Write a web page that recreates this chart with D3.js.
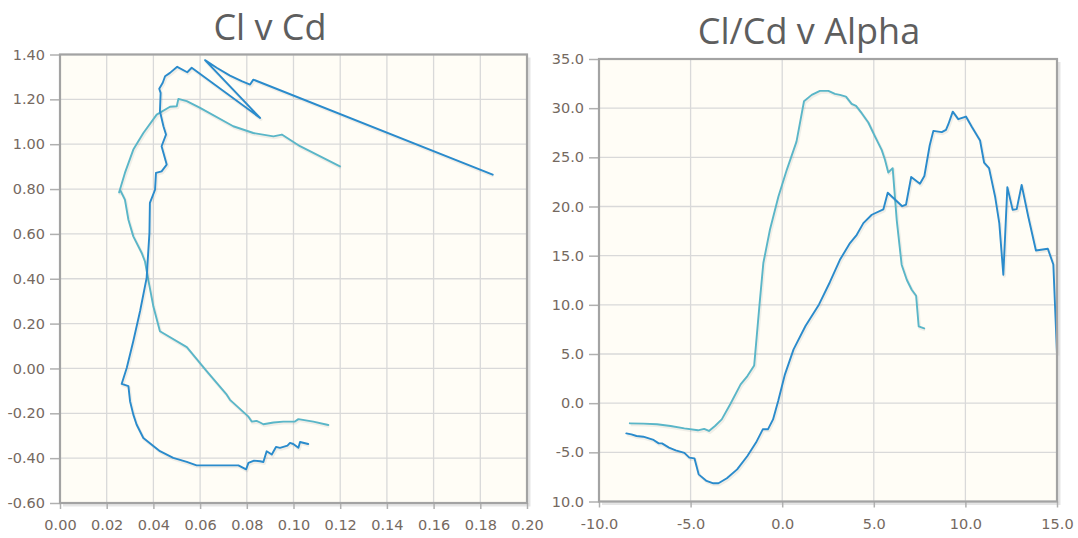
<!DOCTYPE html>
<html>
<head>
<meta charset="utf-8">
<script src="https://cdn.jsdelivr.net/npm/d3@7/dist/d3.min.js"></script>
<style>
  html,body{margin:0;padding:0;background:#ffffff;}
  svg{display:block;}
</style>
</head>
<body>
<svg id="chart" width="1078" height="538"></svg>
<script>
// ---------- DATA ----------
// Left chart: Cl v Cd (series A = dark blue, series B = teal)
const cdA = [0.1063,0.1028,0.1021,0.0999,0.0985,0.0974,0.0942,0.0925,0.0907,0.0885,0.0871,0.0857,0.0831,0.0807,0.0797,0.0764,0.0585,0.0543,0.0485,0.0428,0.0393,0.0357,0.0328,0.0314,0.0300,0.0293,0.0274,0.0264,0.0286,0.0314,0.0343,0.0371,0.0383,0.0385,0.0407,0.0411,0.0435,0.0457,0.0435,0.0454,0.0443,0.0428,0.0431,0.0425,0.0440,0.0450,0.0471,0.0502,0.0545,0.0564,0.0857,0.0621,0.0671,0.0728,0.0778,0.0814,0.0828,0.1853];
const clA = [-0.337,-0.328,-0.354,-0.337,-0.332,-0.344,-0.354,-0.350,-0.384,-0.369,-0.417,-0.414,-0.411,-0.421,-0.450,-0.432,-0.432,-0.417,-0.399,-0.369,-0.340,-0.310,-0.250,-0.206,-0.146,-0.079,-0.072,-0.069,0.003,0.122,0.256,0.404,0.604,0.738,0.797,0.872,0.879,0.909,0.991,1.043,1.080,1.147,1.229,1.247,1.274,1.303,1.318,1.345,1.321,1.341,1.117,1.375,1.341,1.306,1.281,1.266,1.288,0.864];
const cdB = [0.1149,0.1085,0.1021,0.1006,0.0956,0.0914,0.0871,0.0857,0.0842,0.0821,0.0807,0.0728,0.0714,0.0628,0.0543,0.0428,0.0400,0.0378,0.0364,0.0350,0.0314,0.0293,0.0278,0.0257,0.0253,0.0278,0.0314,0.0357,0.0414,0.0471,0.0500,0.0507,0.0543,0.0600,0.0742,0.0828,0.0914,0.0950,0.1028,0.1199];
const clB = [-0.252,-0.237,-0.226,-0.237,-0.237,-0.241,-0.249,-0.241,-0.234,-0.237,-0.215,-0.140,-0.117,-0.012,0.095,0.166,0.276,0.396,0.477,0.515,0.589,0.663,0.753,0.797,0.785,0.872,0.976,1.050,1.132,1.167,1.169,1.202,1.192,1.162,1.080,1.050,1.035,1.043,0.991,0.901];

// Right chart: Cl/Cd v Alpha
const alphaA = [-8.51,-8.23,-7.95,-7.58,-7.02,-6.74,-6.56,-6.18,-5.81,-5.34,-5.07,-4.79,-4.56,-4.13,-3.76,-3.48,-3.02,-2.46,-1.90,-1.43,-1.06,-0.78,-0.50,-0.22,0.15,0.62,1.27,2.01,2.6,3.15,3.70,4.07,4.43,4.89,5.52,5.76,6.55,6.76,7.04,7.52,7.76,8.05,8.25,8.71,8.94,9.07,9.31,9.61,10.03,10.34,10.80,11.02,11.29,11.62,11.85,12.07,12.29,12.58,12.80,13.07,13.43,13.85,14.5,14.8,15.0];
const ratioA = [-3.07,-3.17,-3.34,-3.41,-3.74,-4.09,-4.09,-4.52,-4.80,-5.06,-5.54,-5.61,-7.24,-7.91,-8.15,-8.15,-7.64,-6.73,-5.37,-4.01,-2.66,-2.66,-1.65,0.22,2.93,5.47,7.85,10.04,12.3,14.58,16.28,17.12,18.31,19.16,19.70,21.4,20.03,20.2,23.0,22.31,23.1,26.2,27.69,27.56,27.79,28.37,29.65,28.88,29.15,28.13,26.71,24.47,23.90,21.02,18.31,13.06,21.97,19.66,19.73,22.20,18.98,15.53,15.7,14.1,5.0];
const alphaB = [-8.32,-7.58,-6.83,-6.09,-5.34,-4.60,-4.26,-4.00,-3.67,-3.30,-2.83,-2.27,-1.90,-1.53,-1.24,-1.03,-0.67,-0.21,0.25,0.78,1.19,1.61,2.06,2.52,2.88,3.15,3.48,3.79,4.03,4.34,4.70,5.07,5.43,5.61,5.79,6.03,6.25,6.52,6.80,7.07,7.31,7.45,7.75];
const ratioB = [-2.05,-2.08,-2.15,-2.32,-2.56,-2.76,-2.62,-2.83,-2.32,-1.65,-0.08,1.91,2.76,3.84,10.0,14.25,17.63,21.0,23.73,26.6,30.7,31.35,31.76,31.76,31.45,31.35,31.18,30.44,30.23,29.49,28.54,27.11,25.76,24.75,23.46,23.90,18.65,14.08,12.55,11.53,10.92,7.80,7.6];

// Tick labels
const leftXTicks = [0,0.02,0.04,0.06,0.08,0.10,0.12,0.14,0.16,0.18,0.20];
const leftYTicks = [-0.6,-0.4,-0.2,0,0.2,0.4,0.6,0.8,1.0,1.2,1.4];
const rightXTicks = [-10,-5,0,5,10,15];
const rightYTicks = [-10,-5,0,5,10,15,20,25,30,35];
const titles = ["Cl v Cd", "Cl/Cd v Alpha"];

// ---------- DRAW ----------
const svg = d3.select("#chart");
const loc = d3.formatLocale({decimal:".", thousands:",", grouping:[3], currency:["$",""], minus:"-"});
const COL_A = "#2a8bcc", COL_B = "#5ab6c8";
const defs = svg.append("defs");

function drawChart(cfg){
  const g = svg.append("g");
  if (cfg.clipX !== undefined){
    const id = "clip" + cfg.idx;
    defs.append("clipPath").attr("id", id).append("rect")
      .attr("x", cfg.clipX).attr("y", 0).attr("width", 1078 - cfg.clipX).attr("height", 538);
    g.attr("clip-path", `url(#${id})`);
  }
  const x = d3.scaleLinear().domain(cfg.xDomain).range([cfg.left, cfg.right]);
  const y = d3.scaleLinear().domain(cfg.yDomain).range([cfg.bottom, cfg.top]);
  const w = cfg.right - cfg.left, h = cfg.bottom - cfg.top;

  // title
  g.append("text").attr("x", cfg.titleX).attr("y", cfg.titleY)
    .attr("text-anchor","middle")
    .style("font-family","'Open Sans', sans-serif").style("font-size","36px")
    .style("fill","#5e5e5e").text(cfg.title);

  // frame shadow
  g.append("path")
    .attr("d", `M${cfg.right+2},${cfg.top+3} L${cfg.right+2},${cfg.bottom+2} L${cfg.left+3},${cfg.bottom+2}`)
    .attr("fill","none").attr("stroke","rgba(0,0,0,0.10)").attr("stroke-width",3);
  // background
  g.append("rect").attr("x",cfg.left).attr("y",cfg.top).attr("width",w).attr("height",h)
    .attr("fill","#fffdf6");

  // grid
  g.append("g").selectAll("line").data(cfg.xTicks).join("line")
    .attr("x1",d=>x(d)).attr("x2",d=>x(d)).attr("y1",cfg.top).attr("y2",cfg.bottom)
    .attr("stroke","#d9d9d9").attr("stroke-width",1.3);
  g.append("g").selectAll("line").data(cfg.yTicks).join("line")
    .attr("y1",d=>y(d)).attr("y2",d=>y(d)).attr("x1",cfg.left).attr("x2",cfg.right)
    .attr("stroke","#d9d9d9").attr("stroke-width",1.3);

  // axes
  const fontStyle = sel => sel.selectAll("text")
    .style("font-family","'DejaVu Sans', sans-serif").style("font-size","14.5px")
    .style("fill","#75695f");
  const ax = g.append("g").attr("transform",`translate(0,${cfg.bottom})`)
    .call(d3.axisBottom(x).tickValues(cfg.xTicks).tickSize(6).tickPadding(11).tickFormat(loc.format(cfg.xFmt)));
  ax.select(".domain").remove();
  ax.selectAll("line").attr("stroke","#b0b0b0").attr("stroke-width",1.5);
  fontStyle(ax);
  const ay = g.append("g").attr("transform",`translate(${cfg.left},0)`)
    .call(d3.axisLeft(y).tickValues(cfg.yTicks).tickSize(10).tickPadding(5).tickFormat(loc.format(cfg.yFmt)));
  ay.select(".domain").remove();
  ay.selectAll("line").attr("stroke","#b0b0b0").attr("stroke-width",1.5);
  fontStyle(ay);

  // series
  const line = d3.line().x(d=>x(d[0])).y(d=>y(d[1]));
  cfg.series.forEach(s=>{
    const pts = d3.zip(s.xs, s.ys);
    g.append("path").attr("d", line(pts)).attr("fill","none")
      .attr("stroke","rgba(0,0,0,0.06)").attr("stroke-width",3)
      .attr("stroke-linejoin","round").attr("transform","translate(1,1.5)");
    g.append("path").attr("d", line(pts)).attr("fill","none")
      .attr("stroke", s.color).attr("stroke-width",1.9)
      .attr("stroke-linejoin","round").attr("stroke-linecap","round");
  });

  // border
  g.append("rect").attr("x",cfg.left).attr("y",cfg.top).attr("width",w).attr("height",h)
    .attr("fill","none").attr("stroke","#a3a3a3").attr("stroke-width",2.2);
}

drawChart({
  idx:0, title: titles[0], titleX: 270, titleY: 40,
  left:60, right:527, top:54.5, bottom:503,
  xDomain:[0,0.2], yDomain:[-0.6,1.4],
  xTicks:leftXTicks, yTicks:leftYTicks, xFmt:".2f", yFmt:".2f",
  series:[{xs:cdB, ys:clB, color:COL_B},{xs:cdA, ys:clA, color:COL_A}]
});
drawChart({
  idx:1, title: titles[1], titleX: 809, titleY: 44, clipX: 552,
  left:599, right:1057, top:59, bottom:501.5,
  xDomain:[-10,15], yDomain:[-10,35],
  xTicks:rightXTicks, yTicks:rightYTicks, xFmt:".1f", yFmt:".1f",
  series:[{xs:alphaB, ys:ratioB, color:COL_B},{xs:alphaA, ys:ratioA, color:COL_A}]
});
</script>
</body>
</html>
